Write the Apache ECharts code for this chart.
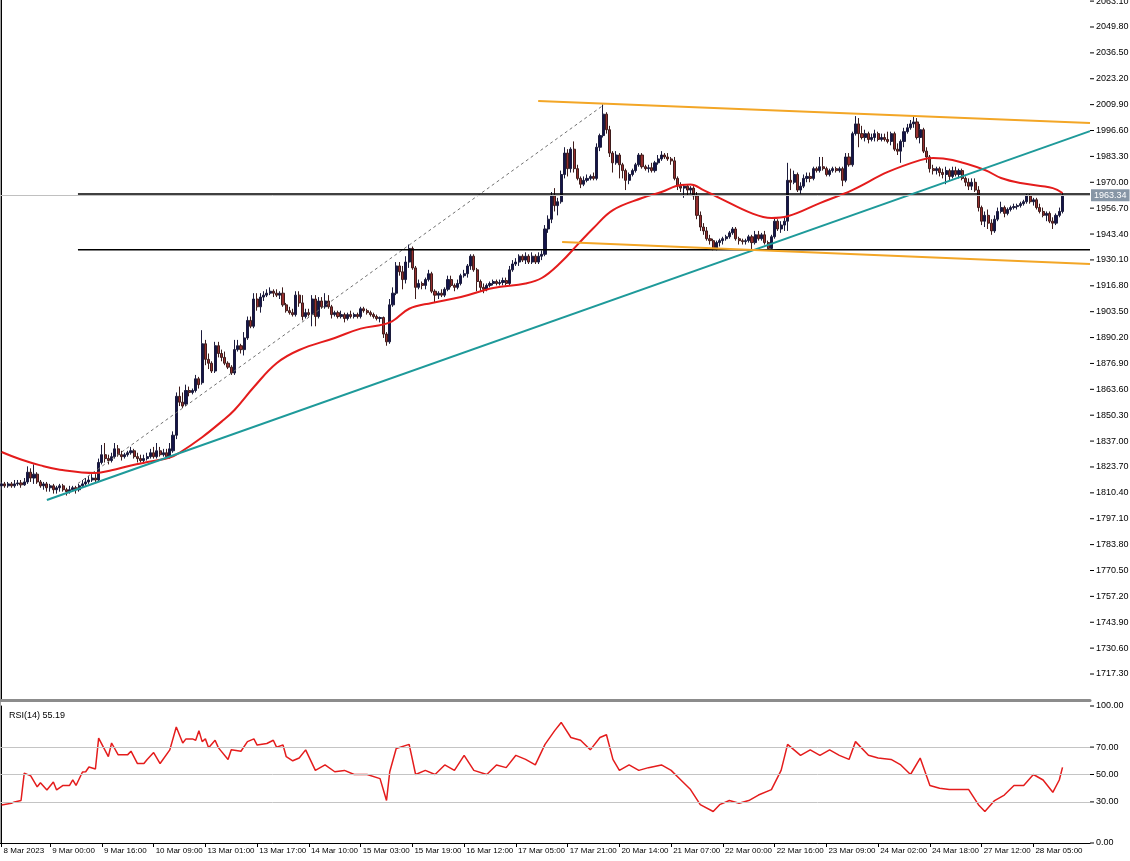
<!DOCTYPE html>
<html><head><meta charset="utf-8">
<script src="https://cdn.jsdelivr.net/npm/echarts@6/dist/echarts.min.js"></script>
<style>html,body{margin:0;padding:0;background:#fff}#c{width:1130px;height:861px}</style>
</head><body><div id="c"></div>
<script>
// ---- data ----
const barCount = 337;
const tickIndex = [0,15,31,47,63,79,95,111,127,143,159,175,191,207,223,239,255,271,287,303,319];
const tickLabels = ['8 Mar 2023','9 Mar 00:00','9 Mar 16:00','10 Mar 09:00','13 Mar 01:00','13 Mar 17:00','14 Mar 10:00','15 Mar 03:00','15 Mar 19:00','16 Mar 12:00','17 Mar 05:00','17 Mar 21:00','20 Mar 14:00','21 Mar 07:00','22 Mar 00:00','22 Mar 16:00','23 Mar 09:00','24 Mar 02:00','24 Mar 18:00','27 Mar 12:00','28 Mar 05:00'];
const priceTicks = [1717.3,1730.6,1743.9,1757.2,1770.5,1783.8,1797.1,1810.4,1823.7,1837.0,1850.3,1863.6,1876.9,1890.2,1903.5,1916.8,1930.1,1943.4,1956.7,1970.0,1983.3,1996.6,2009.9,2023.2,2036.5,2049.8,2063.1];
const rsiTicks = [0,30,50,70,100];
const rsiLevels = [30,50,70];
const lastPrice = 1963.34;
const rsiLast = '55.19';
// [open, close, low, high]
const ohlc = [
[1814,1815,1812,1816],[1815,1814,1813,1816],[1814,1815,1813,1816],[1815,1814,1813,1816],[1814,1815,1813,1817],
[1815,1815.5,1814,1817],[1815.5,1814.5,1813,1817],[1814.5,1816,1814,1818],[1816,1821,1815,1824],[1821,1818,1816,1823],
[1818,1820,1815,1825],[1820,1816,1815,1821],[1816,1814,1813,1817],[1814,1815,1812,1816],[1815,1813,1811,1816],
[1813,1814,1811,1815],[1814,1812,1810,1815],[1812,1813,1810,1814],[1813,1814,1811,1815],[1814,1812,1811,1815],
[1812,1811,1809,1813],[1811,1812,1810,1814],[1812,1813,1811,1814],[1813,1812,1810,1814],[1812,1814,1811,1815],
[1814,1815,1813,1817],[1815,1816,1814,1818],[1816,1817,1815,1819],[1817,1818,1816,1820],[1818,1817,1816,1820],
[1817,1826,1816,1828],[1826,1830,1825,1835],[1830,1828,1826,1836],[1828,1827,1825,1830],[1827,1829,1826,1831],
[1829,1833,1828,1836],[1833,1830,1829,1835],[1830,1829,1827,1832],[1829,1830,1828,1831],[1830,1831,1829,1832],
[1831,1832,1830,1834],[1832,1829,1828,1833],[1829,1828,1826,1831],[1828,1827,1826,1830],[1827,1828,1826,1830],
[1828,1829,1827,1831],[1829,1831,1828,1833],[1831,1829,1828,1834],[1829,1832,1828,1836],[1832,1830,1829,1834],
[1830,1831,1829,1833],[1831,1829,1828,1833],[1829,1833,1828,1836],[1832,1840,1831,1842],[1840,1860,1838,1862],
[1860,1857,1855,1865],[1857,1855,1854,1862],[1856,1863,1855,1866],[1863,1862,1860,1865],[1862,1863,1861,1864],
[1863,1869,1862,1871],[1869,1866,1864,1870],[1867,1887,1866,1894],[1887,1879,1876,1889],[1879,1877,1874,1882],
[1877,1873,1872,1878],[1873,1886,1872,1888],[1886,1882,1880,1888],[1882,1880,1878,1884],[1880,1877,1876,1883],
[1877,1875,1874,1878],[1875,1872,1871,1876],[1872,1884,1871,1889],[1884,1886,1883,1889],[1886,1884,1882,1887],
[1884,1890,1881,1893],[1890,1899,1889,1901],[1899,1896,1895,1901],[1896,1910,1895,1913],[1910,1906,1904,1913],
[1906,1911,1903,1913],[1911,1912,1909,1914],[1912,1913,1911,1915],[1913,1914,1912,1916],[1914,1913,1911,1915],
[1913,1912,1911,1915],[1912,1913,1910,1914],[1913,1907,1906,1916],[1907,1904,1903,1908],[1904,1903,1902,1906],
[1903,1902,1901,1905],[1902,1912,1901,1914],[1912,1908,1906,1914],[1908,1901,1899,1912],[1901,1903,1900,1905],
[1903,1902,1901,1905],[1902,1910,1896,1912],[1910,1901,1896,1912],[1901,1909,1900,1911],[1909,1906,1905,1911],
[1906,1909,1905,1913],[1909,1906,1905,1912],[1906,1902,1900,1907],[1902,1903,1901,1904],[1903,1901,1900,1904],
[1901,1902,1900,1904],[1902,1900,1898,1903],[1900,1902,1899,1903],[1902,1901,1900,1904],[1901,1902,1900,1903],
[1902,1901,1900,1903],[1901,1905,1900,1906],[1905,1904,1903,1906],[1904,1903,1902,1905],[1903,1902,1901,1904],
[1902,1901,1900,1903],[1901,1900,1899,1902],[1900,1900.5,1898,1901],[1900.5,1892,1890,1901],[1892,1888,1886,1893],
[1888,1907,1887,1910],[1907,1913,1906,1916],[1913,1927,1912,1929],[1927,1924,1922,1929],[1924,1920,1915,1927],
[1920,1929,1918,1932],[1929,1936,1926,1938],[1936,1926,1925,1937],[1926,1916,1910,1927],[1916,1918,1915,1920],
[1918,1917,1915,1919],[1917,1920,1915,1921],[1920,1923,1919,1925],[1923,1914,1913,1924],[1914,1912,1908,1915],
[1912,1913,1910,1914],[1913,1912,1911,1915],[1912,1915,1911,1916],[1915,1920,1914,1922],[1920,1917,1916,1922],
[1917,1916,1914,1918],[1916,1918,1915,1920],[1918,1922,1917,1923],[1922,1923,1921,1925],[1923,1927,1921,1928],
[1927,1932,1925,1933],[1932,1925,1924,1933],[1925,1919,1914,1926],[1919,1916,1914,1920],[1916,1915,1913,1918],
[1915,1917,1914,1918],[1917,1918,1916,1919],[1918,1919,1917,1920],[1919,1918,1917,1920],[1918,1918.5,1917,1920],
[1918.5,1919.5,1917,1921],[1919.5,1918,1917,1921],[1918,1925,1917,1927],[1925,1928,1924,1930],[1928,1929,1927,1931],
[1929,1932,1927,1933],[1932,1930,1929,1933],[1930,1932,1928,1934],[1932,1929,1928,1933],[1929,1932,1928,1934],
[1932,1929,1928,1933],[1929,1932,1928,1934],[1932,1933,1930,1935],[1933,1946,1932,1948],[1946,1951,1944,1953],
[1951,1963,1949,1965],[1963,1958,1955,1967],[1958,1960,1953,1962],[1960,1974,1959,1976],[1974,1985,1972,1988],
[1985,1977,1973,1987],[1977,1987,1975,1988],[1987,1977,1975,1991],[1977,1972,1971,1979],[1972,1969,1967,1973],
[1969,1971,1968,1973],[1971,1972,1970,1974],[1972,1973,1971,1974],[1973,1972,1971,1975],[1972,1988,1971,1990],
[1988,1994,1986,1995],[1994,2005,1993,2010],[2005,1997,1995,2006],[1997,1985,1983,1999],[1985,1980,1975,1986],
[1980,1984,1979,1986],[1984,1979,1972,1985],[1979,1976,1972,1980],[1976,1971,1966,1977],[1971,1974,1969,1975],
[1974,1976,1973,1977],[1976,1979,1975,1980],[1979,1984,1978,1985],[1984,1978,1977,1985],[1978,1977,1976,1979],
[1977,1977.5,1975,1979],[1977.5,1976,1975,1980],[1976,1980,1975,1981],[1980,1982,1979,1984],[1982,1984,1981,1986],
[1984,1983,1982,1985],[1983,1982,1981,1985],[1982,1981,1979,1983],[1981,1972,1971,1983],[1972,1968,1966,1973],
[1968,1967,1965,1970],[1967,1968,1962,1969],[1968,1966,1963,1969],[1966,1967,1964,1968],[1967,1963,1961,1968],
[1963,1953,1951,1965],[1953,1947,1945,1955],[1947,1945,1943,1949],[1945,1941,1940,1947],[1941,1940,1938,1943],
[1940,1936,1935,1941],[1936,1939,1935,1940],[1939,1940,1937,1941],[1940,1941,1938,1942],[1941,1942,1940,1943],
[1942,1944,1941,1945],[1944,1946,1943,1947],[1946,1941,1940,1947],[1941,1940,1938,1942],[1940,1939.5,1938,1941],
[1939.5,1940,1938,1941],[1940,1942,1939,1943],[1942,1939,1935,1943],[1939,1943,1938,1945],[1943,1941,1940,1945],
[1941,1943,1940,1944],[1943,1939,1938,1945],[1939,1936,1935,1940],[1936,1942,1935,1943],[1942,1950,1941,1952],
[1950,1946,1945,1951],[1946,1948,1944,1950],[1948,1950,1945,1952],[1950,1971,1945,1980],[1971,1970,1966,1977],
[1970,1974,1969,1976],[1974,1966,1965,1975],[1966,1968,1964,1970],[1968,1972,1967,1974],[1972,1973,1970,1975],
[1973,1972,1970,1975],[1972,1977,1971,1978],[1977,1976,1975,1978],[1976,1978,1975,1983],[1978,1977,1976,1983],
[1977,1974,1973,1978],[1974,1976,1973,1977],[1976,1977,1975,1978],[1977,1976,1975,1978],[1976,1977,1975,1978],
[1977,1971,1968,1978],[1971,1983,1970,1985],[1983,1979,1978,1985],[1979,1995,1978,1996],[1995,2000,1994,2004],
[2000,1995,1988,2003],[1995,1993,1992,1999],[1993,1995,1991,1997],[1995,1992,1990,1996],[1992,1993,1991,1995],
[1993,1995,1991,1997],[1995,1992,1991,1996],[1992,1993,1991,1995],[1993,1992,1991,1995],[1992,1991,1990,1996],
[1991,1995,1989,1996],[1995,1987,1986,1996],[1987,1986,1984,1990],[1986,1991,1980,1992],[1991,1996,1988,1998],
[1996,1998,1995,2000],[1998,2000,1997,2002],[2000,2001,1998,2004],[2001,1993,1992,2003],[1993,1997,1990,2000],
[1997,1986,1985,1998],[1986,1983,1980,1988],[1983,1977,1975,1984],[1977,1976,1974,1979],[1976,1977,1974,1978],
[1977,1975,1973,1978],[1975,1974,1972,1977],[1974,1976,1969,1978],[1976,1973,1971,1977],[1973,1976,1972,1978],
[1976,1974,1973,1978],[1974,1976,1972,1977],[1976,1972,1971,1977],[1972,1970,1968,1973],[1970,1968,1966,1972],
[1968,1970,1966,1972],[1970,1966,1965,1972],[1966,1957,1955,1968],[1957,1950,1948,1958],[1950,1953,1947,1955],
[1953,1949,1946,1956],[1949,1945,1943,1951],[1945,1951,1944,1953],[1951,1955,1950,1957],[1955,1957,1954,1960],
[1957,1954,1952,1958],[1954,1956,1953,1957],[1956,1957,1955,1958],[1957,1957.5,1956,1959],[1957.5,1958,1956,1959],
[1958,1959,1957,1960],[1959,1960,1958,1961],[1960,1963,1959,1964],[1963,1960,1959,1964],[1960,1961,1958,1962],
[1961,1957,1956,1962],[1957,1955,1954,1959],[1955,1953,1952,1957],[1953,1954,1950,1955],[1954,1950,1949,1955],
[1950,1949,1946,1952],[1949,1953,1948,1954],[1953,1955,1952,1957],[1955,1963.34,1954,1964.5]
];
// moving average: [bar index, value]
const maPoints = [[0,1831.4],[6,1827.5],[12,1824.5],[18,1822.3],[29,1820.6],[34,1822],[40,1824.5],[46,1826.5],[52,1828.5],[55,1831],[62,1839],[68,1847],[72,1853],[78,1864.8],[85,1877],[92,1883.8],[103,1890],[111,1894.8],[120,1898],[126,1905],[133,1908],[142,1911],[152,1915.7],[162,1918],[167,1920.8],[173,1929],[178,1937.8],[183,1946.5],[189,1955.7],[198,1961.9],[204,1965],[210,1968.6],[213,1968.8],[217,1966],[222,1961.9],[232,1954],[238,1951.6],[243,1952.5],[253,1959.3],[263,1966],[274,1975.3],[284,1981.4],[288,1982.5],[294,1981.4],[304,1976.3],[309,1972.2],[315,1969.6],[325,1967],[328,1964.5]];
// RSI(14): [bar index, value]
const rsiPoints = [[0,27.7],[3,29],[4,30],[6,31],[7,51],[9,49],[11,41],[12,44],[14,38.7],[16,44.5],[17,38.7],[19,42],[21,42],[22,46],[23,42],[25,51.8],[26,52],[27,55.5],[29,54],[30,76.6],[33,63],[34,73],[36,64.5],[39,64.5],[40,67],[42,58],[44,58],[45,61],[47,66],[49,58],[52,68],[54,84.7],[56,73],[57,76],[59,76],[60,75],[61,82],[62,74],[63,76],[64,69.6],[66,75],[67,69.6],[70,61],[71,68],[74,67],[76,74],[78,76],[79,71.5],[82,72.6],[84,75],[85,70],[87,71.5],[88,63],[90,60],[92,62],[94,68],[97,53],[100,57],[103,52],[106,53],[109,50],[113,50],[117,47],[119,31],[120,52],[122,69],[126,72],[127,61],[128,50],[131,53],[134,50],[137,57],[140,53],[143,64],[146,53],[150,50],[153,57],[156,55],[159,64],[162,61],[165,57],[168,72],[171,82],[173,88],[176,77],[179,75],[182,68],[185,77],[187,79],[189,61],[191,53],[194,57],[197,53],[200,55],[204,57],[207,53],[210,46],[213,39],[216,28],[220,23],[222,28],[225,31],[228,29],[231,31],[234,35],[238,39],[241,53],[243,72],[247,64],[250,68],[253,64],[256,68],[259,64],[262,61],[264,74],[268,64],[271,62],[275,61],[278,57],[281,50],[284,62],[287,42],[290,40],[293,39],[296,39],[299,39],[302,28],[304,23],[307,31],[310,35],[313,42],[316,42],[319,50],[322,46],[325,37],[327,46],[328,55.19]];
// drawn objects (in bar index / price units)
const trendTeal = [[14.0,1806.7],[336.5,1996.3]];
const channelTop = [[165.9,2011.75],[336.5,2000.4]];
const channelBottom = [[173.3,1939.3],[336.5,1928.0]];
const fibAnchor = [[23.6,1815.2],[186.3,2009.9]];
const fibNames = ['23.6','38.2'];
const fibValues = [1963.96,1935.3];

// ---- chart ----
const cats = Array.from({length: barCount}, (_, i) => String(i));
const labelMap = {};
tickIndex.forEach((ix, k) => { labelMap[ix] = tickLabels[k]; });
const showTick = (index) => labelMap[index] !== undefined;
const FONT = 'Liberation Sans';
// right-axis label with a short tick drawn in front of the number
const tickRich = {t: {width: 4, height: 1, backgroundColor: '#000'}, g: {width: 2}};
const tickFmt = v => '{t|\u00a0}{g|\u00a0}' + v.toFixed(2);

const fibSeries = fibValues.map((v, k) => ({
  type: 'line', xAxisIndex: 1, yAxisIndex: 0, symbol: 'none', silent: true,
  lineStyle: {color: '#000', width: 1.5},
  data: [[fibAnchor[0][0], v], {value: [336.5, v], label: {show: true, formatter: fibNames[k], position: 'top', align: 'right', offset: [-3, 1], color: '#000', fontSize: 9, fontFamily: FONT}}]
}));

const option = {
  animation: false,
  backgroundColor: '#fff',
  textStyle: {fontFamily: FONT},
  title: {text: 'RSI(14) ' + rsiLast, left: 4, top: 706, textStyle: {fontSize: 9, fontWeight: 'normal', color: '#000', fontFamily: FONT}},
  graphic: [{type: 'line', silent: true, shape: {x1: 0.5, y1: 0, x2: 0.5, y2: 843}, style: {stroke: '#a0a0a0', lineWidth: 1}}],
  grid: [
    {left: 0, top: 0, width: 1090, height: 700, outerBoundsMode: 'none'},
    {left: 0, top: 706, width: 1090, height: 137, outerBoundsMode: 'none'}
  ],
  xAxis: [
    {type: 'category', gridIndex: 0, data: cats, boundaryGap: true,
     axisLine: {show: true, lineStyle: {color: '#8c8c8c', width: 3}}, axisTick: {show: false}, axisLabel: {show: false}, splitLine: {show: false}},
    {type: 'value', gridIndex: 0, min: -0.5, max: barCount - 0.5, show: false},
    {type: 'category', gridIndex: 1, data: cats, boundaryGap: true,
     axisLine: {show: true, lineStyle: {color: '#000', width: 1}},
     axisTick: {show: true, interval: showTick, alignWithLabel: true, length: 4, lineStyle: {color: '#000'}},
     axisLabel: {show: true, interval: showTick, hideOverlap: false, formatter: (v, i) => labelMap[i] || '', align: 'left', padding: [0, 0, 0, 2], margin: 4, fontSize: 8, color: '#000', fontFamily: FONT},
     splitLine: {show: false}},
    {type: 'value', gridIndex: 1, min: -0.5, max: barCount - 0.5, show: false}
  ],
  yAxis: [
    {type: 'value', gridIndex: 0, position: 'right', min: 1703.94, max: 2063.67,
     axisLine: {show: true, lineStyle: {color: '#000'}},
     axisTick: {show: false},
     axisLabel: {show: true, customValues: priceTicks, formatter: tickFmt, rich: tickRich, fontSize: 9, color: '#000', margin: 0, fontFamily: FONT},
     splitLine: {show: false}},
    {type: 'value', gridIndex: 1, position: 'right', min: 0, max: 100,
     axisLine: {show: true, lineStyle: {color: '#000'}},
     axisTick: {show: false},
     axisLabel: {show: true, customValues: rsiTicks, formatter: tickFmt, rich: tickRich, fontSize: 9, color: '#000', margin: 0, fontFamily: FONT},
     splitLine: {show: false}}
  ],
  series: [
    {type: 'line', xAxisIndex: 1, yAxisIndex: 0, symbol: 'none', silent: true, data: fibAnchor,
     lineStyle: {color: '#707070', width: 1, type: [3, 3]}},
    ...fibSeries,
    {type: 'candlestick', xAxisIndex: 0, yAxisIndex: 0, data: ohlc, barWidth: 2.6,
     itemStyle: {color: '#14144a', color0: '#962e2e', borderColor: '#1c1c3c', borderColor0: '#3e1c1c', borderWidth: 1},
     markLine: {silent: true, symbol: 'none', animation: false,
       lineStyle: {color: '#c0c0c0', width: 1, type: 'solid'},
       label: {show: true, position: 'end', formatter: () => lastPrice.toFixed(2), backgroundColor: '#8796a6', color: '#fff', padding: [2, 3, 1, 3], distance: 1, fontSize: 9, fontFamily: FONT},
       data: [{yAxis: lastPrice}]}},
    {type: 'line', xAxisIndex: 1, yAxisIndex: 0, symbol: 'none', silent: true, smooth: 0.4, data: maPoints,
     lineStyle: {color: '#e41c1c', width: 2}},
    {type: 'line', xAxisIndex: 1, yAxisIndex: 0, symbol: 'none', silent: true, data: trendTeal,
     lineStyle: {color: '#1e9a9a', width: 2}},
    {type: 'line', xAxisIndex: 1, yAxisIndex: 0, symbol: 'none', silent: true, data: channelTop,
     lineStyle: {color: '#f3a626', width: 2}},
    {type: 'line', xAxisIndex: 1, yAxisIndex: 0, symbol: 'none', silent: true, data: channelBottom,
     lineStyle: {color: '#f3a626', width: 2}},
    {type: 'line', xAxisIndex: 3, yAxisIndex: 1, symbol: 'none', silent: true, data: rsiPoints,
     lineStyle: {color: '#e41c1c', width: 1.5},
     markLine: {silent: true, symbol: 'none', animation: false, label: {show: false},
       lineStyle: {color: '#c4c4c4', width: 1, type: 'solid'},
       data: rsiLevels.map(v => ({yAxis: v}))}}
  ]
};
const chart = echarts.init(document.getElementById('c'), null, {renderer: 'canvas'});
chart.setOption(option);
</script>
</body></html>
